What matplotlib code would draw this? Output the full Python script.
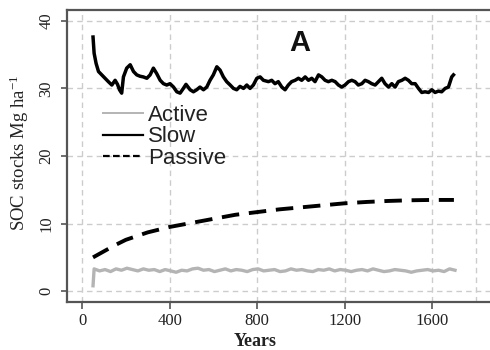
import matplotlib
matplotlib.use("Agg")
import matplotlib.pyplot as plt
from matplotlib.lines import Line2D
from matplotlib.ticker import FixedLocator

# Slow pool
slow_years = [50, 55, 64, 75, 90, 105, 120, 136, 151, 162, 171, 181, 189, 204,
              220, 235, 250, 265, 280, 296, 311, 326, 341, 357, 372, 387, 402,
              418, 433, 448, 463, 475, 494, 509, 524, 539, 555, 570, 585, 600,
              616, 631, 646, 661, 677, 692, 707, 722, 738, 753, 768, 783, 799,
              814, 829, 852, 867, 882, 897, 913, 928, 943, 958, 974, 989, 1004,
              1020, 1035, 1050, 1065, 1081, 1096, 1111, 1126, 1142, 1157, 1172,
              1187, 1202, 1218, 1233, 1248, 1263, 1279, 1294, 1309, 1324, 1340,
              1355, 1370, 1385, 1401, 1416, 1431, 1446, 1462, 1477, 1492, 1507,
              1523, 1538, 1553, 1568, 1584, 1599, 1614, 1629, 1644, 1660, 1675,
              1690, 1698]
slow_vals = [37.6, 35.2, 33.7, 32.5, 32.0, 31.5, 31.0, 30.5, 31.2, 30.6, 29.8,
             29.3, 31.7, 33.0, 33.5, 32.5, 32.0, 31.8, 31.7, 31.5, 32.0, 33.0,
             32.2, 31.2, 30.7, 30.5, 30.7, 30.2, 29.5, 29.3, 30.0, 30.6, 29.8,
             29.5, 29.8, 30.2, 29.8, 30.2, 31.2, 32.0, 33.2, 32.7, 31.7, 31.0,
             30.5, 30.0, 29.8, 30.3, 30.0, 30.5, 30.0, 30.5, 31.5, 31.7, 31.2,
             31.0, 31.2, 30.7, 31.0, 30.2, 29.8, 30.5, 31.0, 31.2, 31.5, 31.2,
             31.7, 31.2, 31.5, 31.0, 32.0, 31.7, 31.2, 31.0, 31.2, 31.0, 30.5,
             30.2, 30.5, 31.0, 31.2, 31.0, 30.5, 30.7, 31.2, 31.0, 30.7, 30.5,
             31.0, 31.5, 30.7, 30.2, 30.7, 30.2, 31.0, 31.2, 31.5, 31.2, 30.7,
             30.7, 30.0, 29.4, 29.5, 29.4, 29.8, 29.4, 29.6, 29.5, 30.0, 30.2,
             31.7, 32.0]

# Active pool
active_years = [50] + list(range(55, 1706, 25))
active_vals = [0.8, 3.3, 3.0, 3.2, 2.9, 3.3, 3.1, 3.4, 3.2, 3.0,
               3.3, 3.1, 3.2, 2.9, 3.2, 3.0, 2.8, 3.1, 3.0, 3.3,
               3.4, 3.1, 3.2, 2.9, 3.1, 3.3, 3.0, 3.2, 3.1, 2.9,
               3.2, 3.3, 3.0, 3.1, 3.2, 2.9, 3.0, 3.3, 3.1, 3.2,
               3.0, 2.9, 3.2, 3.1, 3.3, 3.0, 3.2, 3.1, 2.9, 3.1,
               3.2, 3.0, 3.3, 3.1, 2.9, 3.0, 3.2, 3.1, 3.0, 2.8,
               3.0, 3.1, 3.2, 3.0, 3.1, 2.9, 3.3, 3.1]

# Passive pool
passive_years = [50, 100, 150, 200, 300, 400, 500, 600, 700, 800, 900, 1000,
                 1100, 1200, 1300, 1400, 1500, 1600, 1700]
passive_vals = [5.0, 5.9, 6.8, 7.6, 8.7, 9.5, 10.1, 10.7, 11.3, 11.7, 12.1,
                12.4, 12.7, 13.0, 13.2, 13.35, 13.45, 13.5, 13.5]

x_ticks = [0, 400, 800, 1200, 1600]
y_ticks = [0, 10, 20, 30, 40]

plt.rcParams["mathtext.fontset"] = "custom"
plt.rcParams["mathtext.rm"] = "Liberation Serif"
plt.rcParams["mathtext.it"] = "Liberation Serif:italic"

fig = plt.figure(figsize=(4.9, 3.5), dpi=100)
ax = fig.add_axes([67 / 490, 48 / 350, 423 / 490, 292 / 350])

grid_kw = dict(color="#cccccc", lw=1.0, linestyle=(0, (4, 3)))
ax.plot(active_years, active_vals, color="#b4b4b4", lw=2.4, zorder=3)
ax.plot(slow_years, slow_vals, color="black", lw=2.5, zorder=3)
ax.plot(passive_years, passive_vals, color="black", lw=2.8,
        linestyle=(0, (4.5, 2.5)), zorder=3)

ax.set_xlim(-69, 1865)
ax.set_ylim(-1.6, 41.6)
ax.set_xticks(x_ticks)
ax.xaxis.set_minor_locator(FixedLocator([1800]))
ax.set_yticks(y_ticks)
ax.grid(True, which="major", **grid_kw)
ax.grid(True, which="minor", axis="x", **grid_kw)
ax.set_axisbelow(True)

for side in ["left", "bottom", "top"]:
    ax.spines[side].set_color("#555555")
    ax.spines[side].set_linewidth(1.6)
ax.spines["right"].set_visible(False)

ax.tick_params(axis="x", which="major", length=5, width=1.2, color="#555555",
               pad=3, labelsize=12, labelcolor="#222222")
ax.tick_params(axis="x", which="minor", length=0)
ax.tick_params(axis="y", length=4, width=1.2, color="#555555", pad=5,
               labelsize=12, labelcolor="#222222")
for lab in ax.get_xticklabels() + ax.get_yticklabels():
    lab.set_fontfamily("Liberation Serif")
for lab in ax.get_yticklabels():
    lab.set_rotation(90)
    lab.set_va("center")

fig.text(19 / 490, 1 - 153 / 350, "SOC stocks Mg ha$^{-1}$", rotation=90,
         ha="center", va="center", fontsize=13.5, family="Liberation Serif",
         color="#222222")
fig.text(255 / 490, 1 - 341 / 350, "Years", ha="center", va="center",
         fontsize=13, fontweight="bold", family="Liberation Serif",
         color="#222222")
fig.text(300 / 490, 1 - 43 / 350, "A", ha="center", va="center", fontsize=21,
         fontweight="bold", family="Liberation Sans", color="#111111")

handles = [Line2D([], [], color="#b4b4b4", lw=1.4),
           Line2D([], [], color="black", lw=1.6),
           Line2D([], [], color="black", lw=1.6, linestyle=(0, (3, 1.5)))]
leg = ax.legend(handles, ["Active", "Slow", "Passive"], loc="upper left",
                bbox_to_anchor=(103 / 490, 1 - 105 / 350),
                bbox_transform=fig.transFigure, frameon=False, borderpad=0,
                borderaxespad=0, handlelength=1.8, handletextpad=0.22,
                labelspacing=0.02,
                prop={"family": "Liberation Sans", "size": 16})
for t in leg.get_texts():
    t.set_color("#222222")

fig.savefig("out.png", dpi=100)
